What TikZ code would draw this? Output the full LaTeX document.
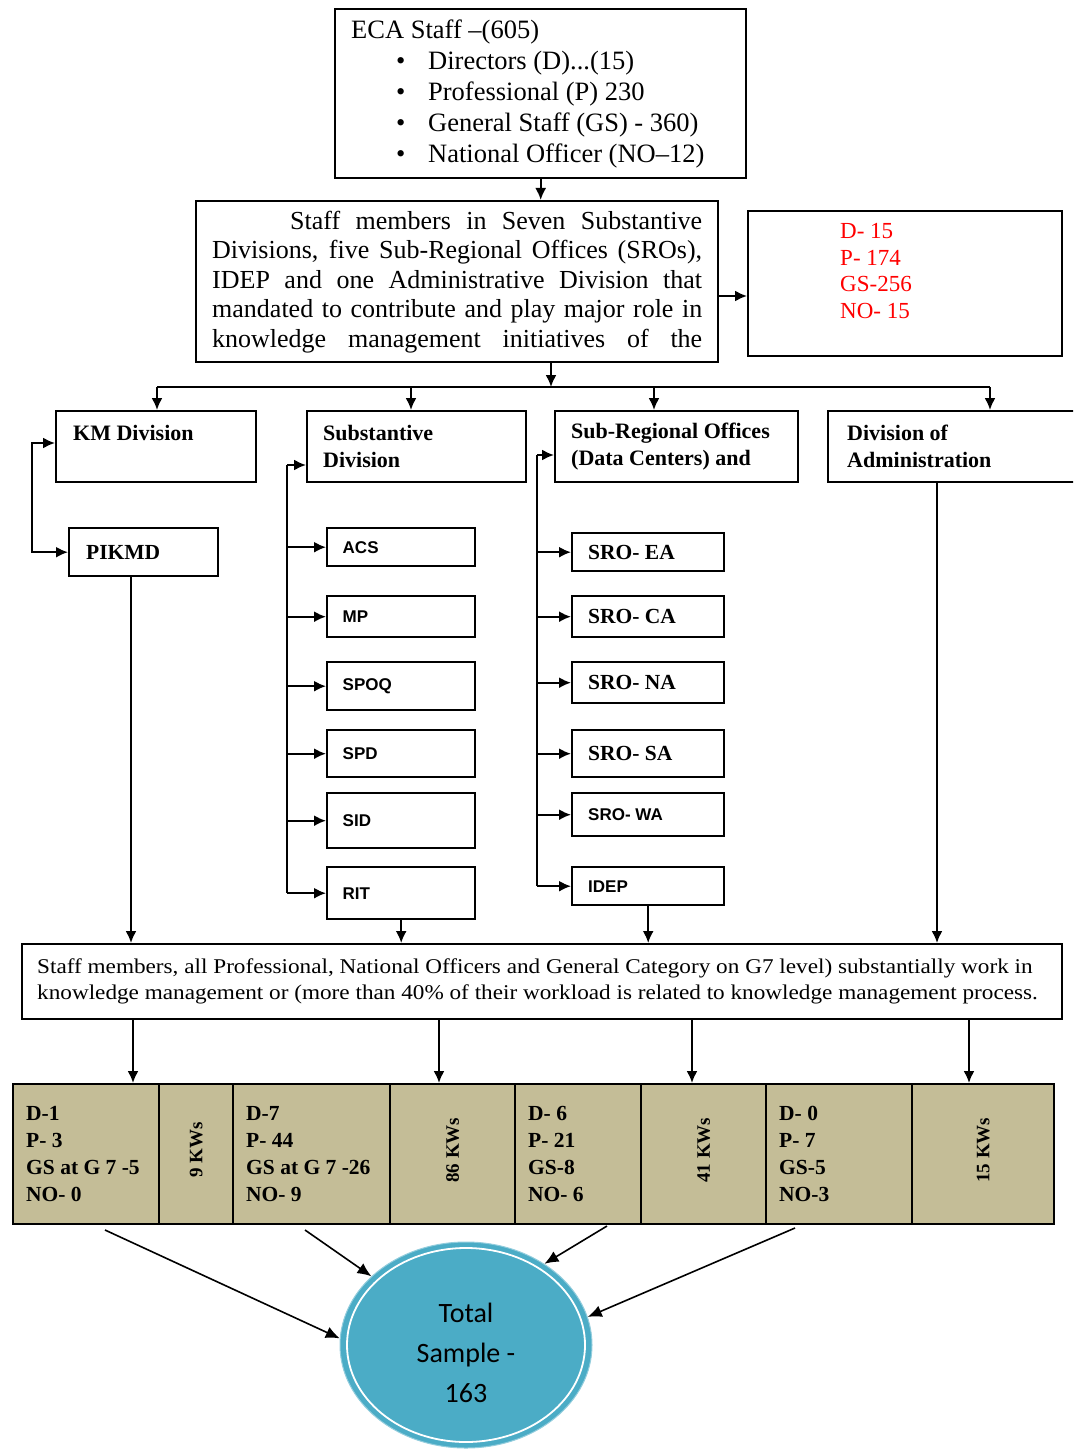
\documentclass[tikz,border=0pt]{standalone}
\usepackage{fontspec}
\setmainfont{Liberation Serif}
\setsansfont{Liberation Sans}
\newfontfamily\calibrifont{Carlito}
\newfontfamily\widefont[FakeStretch=1.105]{Liberation Serif}
\usetikzlibrary{arrows.meta,shapes.geometric}
\definecolor{celltan}{RGB}{196,189,151}
\definecolor{sampleblue}{RGB}{75,172,198}
\definecolor{countred}{RGB}{255,0,0}
\begin{document}
\begin{tikzpicture}[x=1pt,y=-1pt,
  box/.style={draw, line width=2.4pt, rectangle, inner sep=0pt, anchor=north west},
  link/.style={line width=2pt},
  arr/.style={line width=2pt, -{Latex[length=12pt,width=11pt]}},
  biarr/.style={line width=2pt, {Latex[length=12pt,width=11pt]}-{Latex[length=12pt,width=11pt]}},
  thinarr/.style={line width=1.6pt, -{Latex[length=14pt,width=12pt]}},
  hdr/.style={box, minimum height=71pt, align=flush left, font=\fontsize{22}{27}\selectfont\bfseries},
  unitbox/.style={box, minimum width=148pt, text width=117pt, inner xsep=15.5pt, align=flush left, font=\fontsize{17}{20}\selectfont\sffamily\bfseries},
  srobox/.style={box, minimum width=152pt, text width=120pt, inner xsep=16pt, align=flush left, font=\fontsize{21.5}{24}\selectfont\bfseries},
  cell/.style={box, fill=celltan, minimum height=140pt},
  stat/.style={cell, align=flush left, inner xsep=13pt, font=\fontsize{21.5}{27}\selectfont\bfseries},
  kw/.style={rotate=90, inner sep=0pt, font=\fontsize{19}{20}\selectfont\bfseries},
]
\useasboundingbox (0,0) rectangle (1073,1450);
\clip (0,0) rectangle (1073,1450);

% --- staff totals ---
\node[box, minimum width=411pt, minimum height=169pt, text width=379pt, inner xsep=16pt,
      align=flush left, font=\fontsize{26.5}{31}\selectfont] (eca) at (334,8)
  {ECA Staff –(605)\\
   \hspace*{45pt}\makebox[32pt][l]{\textbullet}Directors (D)...(15)\\
   \hspace*{45pt}\makebox[32pt][l]{\textbullet}Professional (P) 230\\
   \hspace*{45pt}\makebox[32pt][l]{\textbullet}General Staff (GS) - 360)\\
   \hspace*{45pt}\makebox[32pt][l]{\textbullet}National Officer (NO--12)};

\node[box, minimum width=522pt, minimum height=161pt, text width=490pt, inner xsep=16pt,
      align=flush left, font=\fontsize{26}{29.5}\selectfont] (staff) at (195,200)
  {\hspace*{78pt}\makebox[412pt][s]{Staff members in Seven Substantive}\\
   \makebox[490pt][s]{Divisions, five Sub-Regional Offices (SROs),}\\
   \makebox[490pt][s]{IDEP and one Administrative Division that}\\
   \makebox[490pt][s]{mandated to contribute and play major role in}\\
   \makebox[490pt][s]{knowledge management initiatives of the}};

\node[box, minimum width=314pt, minimum height=145pt] (counts) at (747,210) {};
\node[anchor=north west, inner sep=0pt, align=flush left, text=countred,
      font=\fontsize{23}{26.7}\selectfont] (countstext) at (840,223)
  {D- 15\\P- 174\\GS-256\\NO- 15};

\draw[arr] (eca.south) -- (eca.south |- staff.north);
\coordinate (sc) at (747,296);
\draw[arr] (sc -| staff.east) -- (sc);

% --- division headers ---
\node[hdr, minimum width=200pt, text width=166pt, inner xsep=17pt] (km) at (55,410) {KM Division\\\mbox{}};
\node[hdr, minimum width=219pt, text width=187pt, inner xsep=16pt] (subst) at (306,410) {Substantive\\Division};
\node[hdr, minimum width=243pt, text width=211pt, inner xsep=16pt] (sro) at (554,410) {Sub-Regional Offices\\(Data Centers) and};
\node[hdr, minimum width=262pt, text width=224pt, inner xsep=19pt] (admin) at (827,410) {Division of\\Administration};

\coordinate (sd) at (551,387);
\coordinate (b1) at (157,387);
\coordinate (b2) at (411,387);
\coordinate (b3) at (654,387);
\coordinate (b4) at (990,387);
\draw[arr] (sd |- staff.south) -- (sd);
\draw[link] (b1) -- (b4);
\draw[arr] (b1) -- (b1 |- km.north);
\draw[arr] (b2) -- (b2 |- subst.north);
\draw[arr] (b3) -- (b3 |- sro.north);
\draw[arr] (b4) -- (b4 |- admin.north);

% --- KM branch ---
\node[box, minimum width=149pt, minimum height=48pt, text width=115pt, inner xsep=17pt,
      align=flush left, font=\fontsize{21.5}{24}\selectfont\bfseries] (pikmd) at (68,527) {PIKMD};
\coordinate (kmloop) at (32,443);
\draw[biarr] (kmloop -| km.west) -- (kmloop) |- (pikmd.west);

% --- substantive divisions ---
\node[unitbox, minimum height=38pt] (acs) at (326,527) {ACS};
\node[unitbox, minimum height=41pt] (mp) at (326,595) {MP};
\node[unitbox, minimum height=48pt] (spoq) at (326,661) {SPOQ};
\node[unitbox, minimum height=47pt] (spd) at (326,729) {SPD};
\node[unitbox, minimum height=55pt] (sid) at (326,792) {SID};
\node[unitbox, minimum height=52pt] (rit) at (326,866) {RIT};
\coordinate (sv) at (287,465);
\draw[arr] (sv) -- (sv -| subst.west);
\draw[link] (sv) -- (sv |- rit.west);
\foreach \u in {acs,mp,spoq,spd,sid,rit}
  \draw[arr] (sv |- \u.west) -- (\u.west);

% --- sub-regional offices ---
\node[srobox, minimum height=38pt] (ea) at (571,532) {SRO- EA};
\node[srobox, minimum height=41pt] (ca) at (571,595) {SRO- CA};
\node[srobox, minimum height=41pt] (na) at (571,661) {SRO- NA};
\node[srobox, minimum height=47pt] (sa) at (571,729) {SRO- SA};
\node[srobox, minimum height=43pt, font=\fontsize{17}{20}\selectfont\sffamily\bfseries] (wa) at (571,792) {SRO- WA};
\node[srobox, minimum height=38pt, font=\fontsize{17}{20}\selectfont\sffamily\bfseries] (idep) at (571,866) {IDEP};
\coordinate (rv) at (537,455);
\draw[arr] (rv) -- (rv -| sro.west);
\draw[link] (rv) -- (rv |- idep.west);
\foreach \u in {ea,ca,na,sa,wa,idep}
  \draw[arr] (rv |- \u.west) -- (\u.west);

% --- knowledge workers ---
\node[box, minimum width=1040pt, minimum height=75pt] (wide) at (21,943) {};
\node[anchor=west, inner sep=0pt, align=flush left, font=\fontsize{21}{26}\widefont] (widetext) at (37,981)
  {Staff members, all Professional, National Officers and General Category on G7 level) substantially work in\\
   knowledge management or (more than 40\% of their workload is related to knowledge management process.};

\coordinate (kmdrop) at (131,943);
\coordinate (admdrop) at (937,943);
\draw[arr] (kmdrop |- pikmd.south) -- (kmdrop);
\draw[arr] (rit.south) -- (rit.south |- wide.north);
\draw[arr] (idep.south) -- (idep.south |- wide.north);
\draw[arr] (admdrop |- admin.south) -- (admdrop);

% --- sample table ---
\node[stat, minimum width=146pt, text width=120pt] (c1) at (12,1083) {D-1\\P- 3\\GS at G 7 -5\\NO- 0};
\node[cell, minimum width=74pt] (c2) at (158,1083) {};
\node[stat, minimum width=157pt, text width=131pt] (c3) at (232,1083) {D-7\\P- 44\\GS at G 7 -26\\NO- 9};
\node[cell, minimum width=125pt] (c4) at (389,1083) {};
\node[stat, minimum width=126pt, text width=100pt] (c5) at (514,1083) {D- 6\\P- 21\\GS-8\\NO- 6};
\node[cell, minimum width=125pt] (c6) at (640,1083) {};
\node[stat, minimum width=146pt, text width=120pt] (c7) at (765,1083) {D- 0\\P- 7\\GS-5\\NO-3};
\node[cell, minimum width=142pt] (c8) at (911,1083) {};
\node[kw] (k2) at ([yshift=4pt]c2.center) {9 KWs};
\node[kw] (k4) at ([yshift=4pt]c4.center) {86 KWs};
\node[kw] (k6) at ([yshift=4pt]c6.center) {41 KWs};
\node[kw] (k8) at ([yshift=4pt]c8.center) {15 KWs};

\coordinate (t1) at (133,1083);
\coordinate (t2) at (439,1083);
\coordinate (t3) at (692,1083);
\coordinate (t4) at (969,1083);
\foreach \t in {t1,t2,t3,t4}
  \draw[arr] (\t |- wide.south) -- (\t);

% --- total sample ---
\node[ellipse, fill=sampleblue, draw=sampleblue!60, line width=1pt, minimum width=252pt,
      minimum height=206pt, inner sep=0pt] (total) at (466,1345) {};
\draw[white, line width=1.8pt] (total.center) ellipse [x radius=119pt, y radius=97pt];
\node[align=flush center, inner sep=0pt, font=\fontsize{28}{40}\selectfont\calibrifont]
  (totaltext) at ([yshift=-8pt]total.center) {Total\\Sample -\\163};

\coordinate (s1) at (105,1230);
\coordinate (s2) at (305,1230);
\coordinate (s3) at (607,1226);
\coordinate (s4) at (795,1228);
\draw[thinarr] (s1) -- (total.177);
\draw[thinarr] (s2) -- (total.144);
\draw[thinarr] (s3) -- (total.46);
\draw[thinarr] (s4) -- (total.13);
\end{tikzpicture}
\end{document}
